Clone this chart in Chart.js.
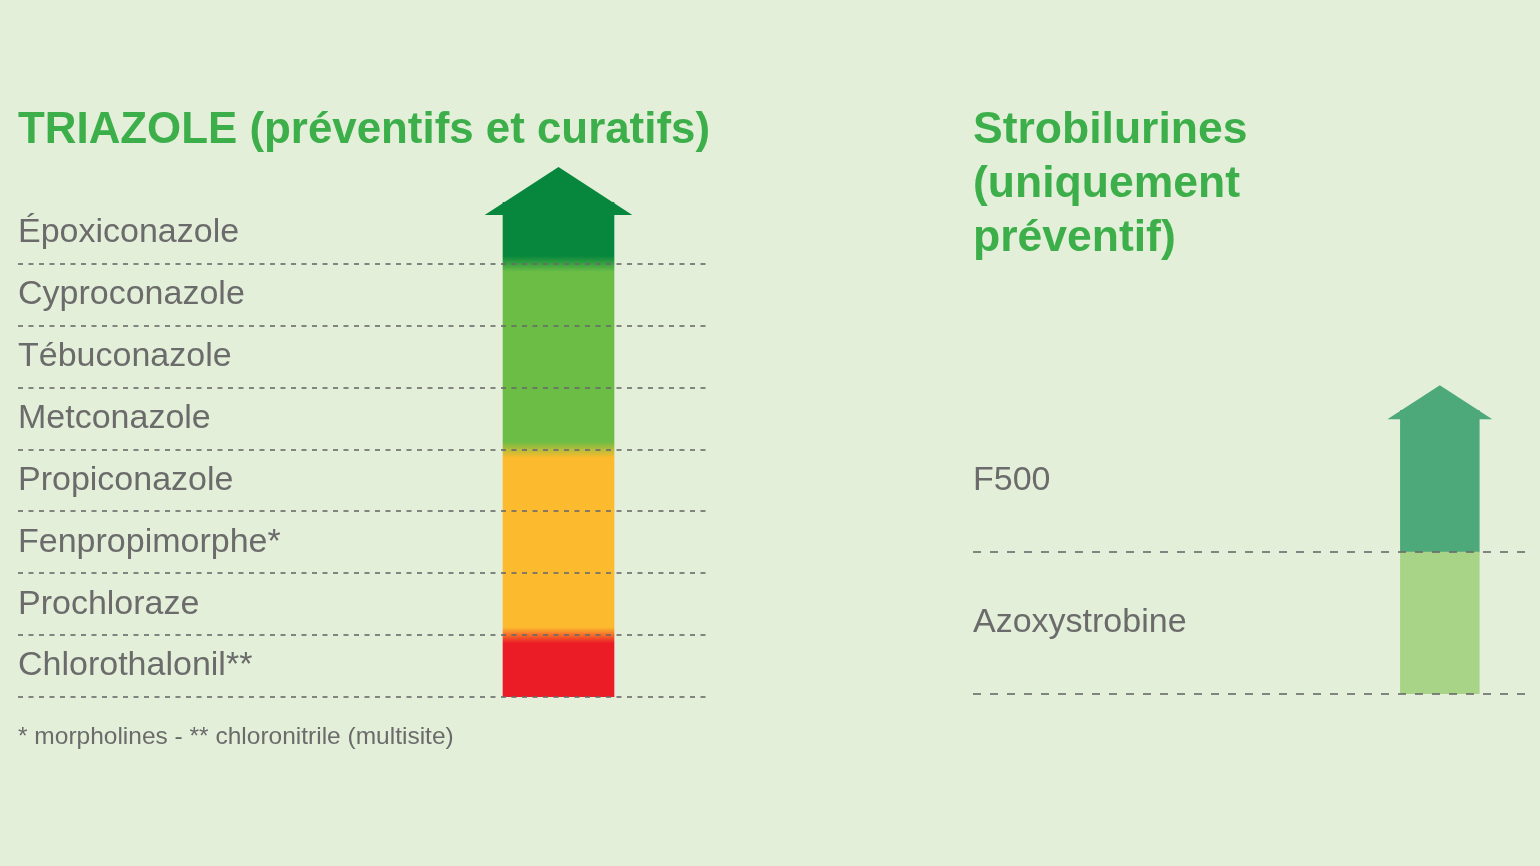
<!DOCTYPE html>
<html lang="fr">
<head>
<meta charset="utf-8">
<title>Triazole / Strobilurines</title>
<script src="https://cdn.jsdelivr.net/npm/chart.js@4/dist/chart.umd.min.js"></script>
<style>
  html, body { margin: 0; padding: 0; background: #e3efd9; width: 1540px; height: 866px; overflow: hidden; }
  #wrapL { position: absolute; left: 0; top: 0; width: 740px; height: 866px; }
  #wrapR { position: absolute; left: 950px; top: 0; width: 590px; height: 866px; }
</style>
</head>
<body>
<div id="wrapL"><canvas id="chartL" width="740" height="866"></canvas></div>
<div id="wrapR"><canvas id="chartR" width="590" height="866"></canvas></div>
<script>
// ---------- DATA ----------
const triazoleTitle = 'TRIAZOLE (préventifs et curatifs)';
const triazoleLabels = ['Époxiconazole', 'Cyproconazole', 'Tébuconazole', 'Metconazole',
                        'Propiconazole', 'Fenpropimorphe*', 'Prochloraze', 'Chlorothalonil**'];
const triazoleValues = [1, 1, 1, 1, 1, 1, 1, 1];
const triazoleColors = ['#07873d', '#6bbd45', '#6bbd45', '#6bbd45',
                        '#fcbb2e', '#fcbb2e', '#fcbb2e', '#ec1c26'];
const triazoleNote = '* morpholines - ** chloronitrile (multisite)';

const strobiTitle = ['Strobilurines', '(uniquement', 'préventif)'];
const strobiLabels = ['F500', 'Azoxystrobine'];
const strobiValues = [1, 1];
const strobiColors = ['#4ea97a', '#a8d487'];

// ---------- STYLE ----------
const TITLE_GREEN = '#3caf4a';
const TEXT_GREY = '#6b6b6b';
const GRID_GREY = 'rgba(105,105,105,0.8)';
const FONT = '"Liberation Sans", Arial, sans-serif';

function rowGradient(ctx, colors, blend) {
  const chart = ctx.chart;
  const area = chart.chartArea;
  const ys = chart.scales.y;
  if (!area || !ys || blend <= 0) return colors[ctx.dataIndex];
  const y0 = area.top - 120, y1 = area.bottom;
  const g = chart.ctx.createLinearGradient(0, y0, 0, y1);
  const n = colors.length;
  const half = (area.bottom - area.top) / n / 2;
  const f = v => Math.min(1, Math.max(0, (v - y0) / (y1 - y0)));
  for (let i = 0; i < n; i++) {
    const c = ys.getPixelForValue(i);
    const a = i === 0 ? y0 : c - half + blend;
    const b = i === n - 1 ? y1 : c + half - blend;
    g.addColorStop(f(a), colors[i]);
    g.addColorStop(f(b), colors[i]);
  }
  return g;
}

const arrowHead = {
  id: 'arrowHead',
  afterDatasetsDraw(chart, args, opts) {
    const el = chart.getDatasetMeta(0).data[0];
    if (!el) return;
    const p = el.getProps(['x', 'y', 'base', 'height'], true);
    const left = Math.min(p.x, p.base), right = Math.max(p.x, p.base);
    const w = right - left;
    const top = p.y - p.height / 2;
    const oh = w * opts.overhang;
    const headW = w + 2 * oh;
    const headH = headW * opts.ratio;
    const baseY = top + w * opts.offset;
    const cx = (left + right) / 2;
    const ctx = chart.ctx;
    ctx.save();
    ctx.fillStyle = opts.color;
    ctx.beginPath();
    ctx.moveTo(left - oh, baseY);
    ctx.lineTo(cx, baseY - headH);
    ctx.lineTo(right + oh, baseY);
    ctx.closePath();
    ctx.fill();
    ctx.restore();
  }
};

function makeChart(canvasId, cfg) {
  return new Chart(document.getElementById(canvasId), {
    type: 'bar',
    data: {
      labels: cfg.labels,
      datasets: [{
        data: cfg.values,
        backgroundColor: ctx => rowGradient(ctx, cfg.colors, cfg.blend),
        borderWidth: 0,
        categoryPercentage: 1,
        barPercentage: 1,
        grouped: false
      }]
    },
    options: {
      indexAxis: 'y',
      responsive: false,
      animation: false,
      events: [],
      layout: { padding: cfg.padding },
      scales: {
        x: { type: 'linear', display: false, min: cfg.xMin, max: cfg.xMax },
        y: {
          type: 'category',
          offset: true,
          grid: {
            offset: true,
            drawTicks: false,
            z: 1,
            lineWidth: 2,
            color: c => (c.index === 0 ? 'rgba(0,0,0,0)' : GRID_GREY)
          },
          border: { display: false, dash: cfg.dash },
          ticks: {
            mirror: true,
            padding: cfg.tickPad,
            color: TEXT_GREY,
            font: { family: FONT, size: 34 }
          }
        }
      },
      plugins: {
        legend: { display: false },
        tooltip: { enabled: false },
        title: {
          display: true,
          text: cfg.title,
          align: 'start',
          color: TITLE_GREEN,
          font: { family: FONT, size: 44.5, weight: 'bold', lineHeight: 54 / 44.5 },
          padding: cfg.titlePad
        },
        subtitle: cfg.note ? {
          display: true,
          text: cfg.note,
          position: 'bottom',
          align: 'start',
          color: TEXT_GREY,
          font: { family: FONT, size: 24.5, lineHeight: 1.2 },
          padding: { top: 25.3, bottom: 0 }
        } : { display: false },
        arrowHead: { color: cfg.colors[0], overhang: 0.165, ratio: 0.325, offset: 0.117 }
      }
    },
    plugins: [arrowHead]
  });
}

makeChart('chartL', {
  labels: triazoleLabels, values: triazoleValues, colors: triazoleColors, blend: 8,
  title: triazoleTitle, note: triazoleNote,
  padding: { left: 18, right: 30, top: 0, bottom: 114.3 },
  titlePad: { top: 104, bottom: 44 },
  xMin: -4.37, xMax: 1.865, dash: [5, 5.5], tickPad: 0
});

makeChart('chartR', {
  labels: strobiLabels, values: strobiValues, colors: strobiColors, blend: 0,
  title: strobiTitle, note: null,
  padding: { left: 23, right: 15, top: 0, bottom: 172 },
  titlePad: { top: 104, bottom: 144 },
  xMin: -5.42, xMax: 1.58, dash: [8, 9], tickPad: 0
});
</script>
</body>
</html>
